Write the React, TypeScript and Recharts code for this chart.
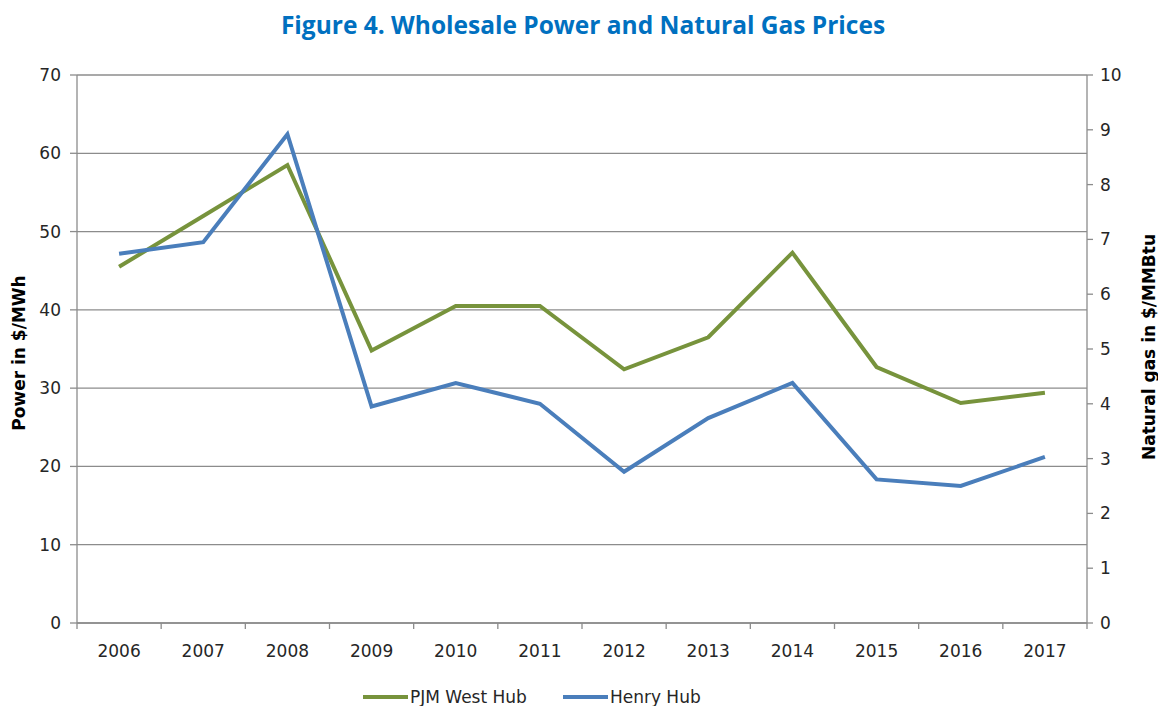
import { LineChart, Line, XAxis, YAxis, CartesianGrid, Legend } from "recharts";

const years = ["2006", "2007", "2008", "2009", "2010", "2011", "2012", "2013", "2014", "2015", "2016", "2017"];
const pjmWestHub = [45.5, 52.0, 58.5, 34.8, 40.5, 40.5, 32.4, 36.5, 47.3, 32.7, 28.1, 29.4];
const henryHub = [6.74, 6.95, 8.92, 3.95, 4.38, 4.0, 2.76, 3.74, 4.38, 2.62, 2.5, 3.03];
const powerTicks = [0, 10, 20, 30, 40, 50, 60, 70];
const gasTicks = [0, 1, 2, 3, 4, 5, 6, 7, 8, 9, 10];

const data = years.map((year, i) => ({ year, pjm: pjmWestHub[i], henry: henryHub[i] }));

const W = 1158;
const H = 706;
const LEFT_W = 77;
const RIGHT_W = 71;
const BAND = (W - LEFT_W - RIGHT_W) / years.length;

const GREEN = "#77933C";
const BLUE = "#4A7EBB";
const AXIS = "#8c8c8c";
const TEXT = "#262626";
const FONT = "'DejaVu Sans', sans-serif";

const YearTick = (props: any) => {
  const { x, y, payload, index } = props;
  const half = BAND / 2;
  return (
    <g>
      <line x1={x - half} y1={y} x2={x - half} y2={y + 6} stroke={AXIS} strokeWidth={1.3} />
      {index === years.length - 1 && (
        <line x1={x + half} y1={y} x2={x + half} y2={y + 6} stroke={AXIS} strokeWidth={1.3} />
      )}
      <text x={x} y={y + 22} dy="0.71em" textAnchor="middle" fill={TEXT} fontSize={17} fontFamily={FONT}>
        {payload.value}
      </text>
    </g>
  );
};

// rotated axis title, centred on (cx, cy)
const axisTitle = (text: string, cx: number, cy: number) => () => (
  <text
    x={cx}
    y={cy}
    transform={`rotate(-90 ${cx} ${cy})`}
    textAnchor="middle"
    dominantBaseline="central"
    fill="#000"
    fontSize={17}
    fontWeight={700}
    fontFamily={FONT}
  >
    {text}
  </text>
);

const LegendContent = () => (
  <div
    style={{
      boxSizing: "border-box",
      height: 43,
      paddingTop: 24,
      overflow: "visible",
      display: "flex",
      alignItems: "flex-start",
      marginLeft: 363,
      fontFamily: FONT,
      fontSize: 17,
      lineHeight: "20px",
      color: TEXT,
    }}
  >
    {[
      { name: "PJM West Hub", color: GREEN },
      { name: "Henry Hub", color: BLUE },
    ].map((item) => (
      <div key={item.name} style={{ display: "flex", alignItems: "center", marginRight: 36 }}>
        <span style={{ width: 45, height: 4, background: item.color, marginRight: 2, display: "inline-block" }} />
        <span>{item.name}</span>
      </div>
    ))}
  </div>
);

export default function App() {
  return (
    <div style={{ position: "absolute", left: 0, top: 0, width: W, height: H, background: "#fff" }}>
      <div
        style={{
          position: "absolute",
          top: 8,
          left: 0,
          width: W,
          textAlign: "center",
          fontFamily: "'Open Sans', sans-serif",
          fontWeight: 700,
          fontSize: 24.5,
          lineHeight: "34px",
          color: "#0070C0",
          marginLeft: 4,
        }}
      >
        Figure 4. Wholesale Power and Natural Gas Prices
      </div>
      <LineChart width={W} height={H} data={data} margin={{ top: 75, right: 0, bottom: 0, left: 0 }}>
        <CartesianGrid vertical={false} stroke={AXIS} strokeWidth={1.3} yAxisId="power" />
        <XAxis
          dataKey="year"
          xAxisId={0}
          height={40}
          padding={{ left: BAND / 2, right: BAND / 2 }}
          axisLine={{ stroke: AXIS, strokeWidth: 1.3 }}
          tickLine={false}
          tickSize={0}
          tickMargin={0}
          interval={0}
          tick={<YearTick />}
        />
        <YAxis
          yAxisId="power"
          orientation="left"
          width={LEFT_W}
          domain={[0, 70]}
          ticks={powerTicks}
          interval={0}
          axisLine={{ stroke: AXIS, strokeWidth: 1.3 }}
          tickLine={{ stroke: AXIS, strokeWidth: 1.3 }}
          tickSize={7}
          tickMargin={9}
          tick={{ fill: TEXT, fontSize: 17, fontFamily: FONT }}
          label={{ content: axisTitle("Power in $/MWh", 19, 353) }}
        />
        <YAxis
          yAxisId="gas"
          orientation="right"
          width={RIGHT_W}
          domain={[0, 10]}
          ticks={gasTicks}
          interval={0}
          axisLine={{ stroke: AXIS, strokeWidth: 1.3 }}
          tickLine={{ stroke: AXIS, strokeWidth: 1.3 }}
          tickSize={6}
          tickMargin={7}
          tick={{ fill: TEXT, fontSize: 17, fontFamily: FONT, textAnchor: "start" }}
          label={{ content: axisTitle("Natural gas in $/MMBtu", 1149, 347) }}
        />
        <Line
          yAxisId="power"
          dataKey="pjm"
          name="PJM West Hub"
          stroke={GREEN}
          strokeWidth={4}
          dot={false}
          isAnimationActive={false}
        />
        <Line
          yAxisId="gas"
          dataKey="henry"
          name="Henry Hub"
          stroke={BLUE}
          strokeWidth={4}
          dot={false}
          isAnimationActive={false}
        />
        <Legend
          verticalAlign="bottom"
          height={43}
          content={<LegendContent />}
          wrapperStyle={{ left: 0, width: W, bottom: 0, height: 43 }}
        />
      </LineChart>
    </div>
  );
}
